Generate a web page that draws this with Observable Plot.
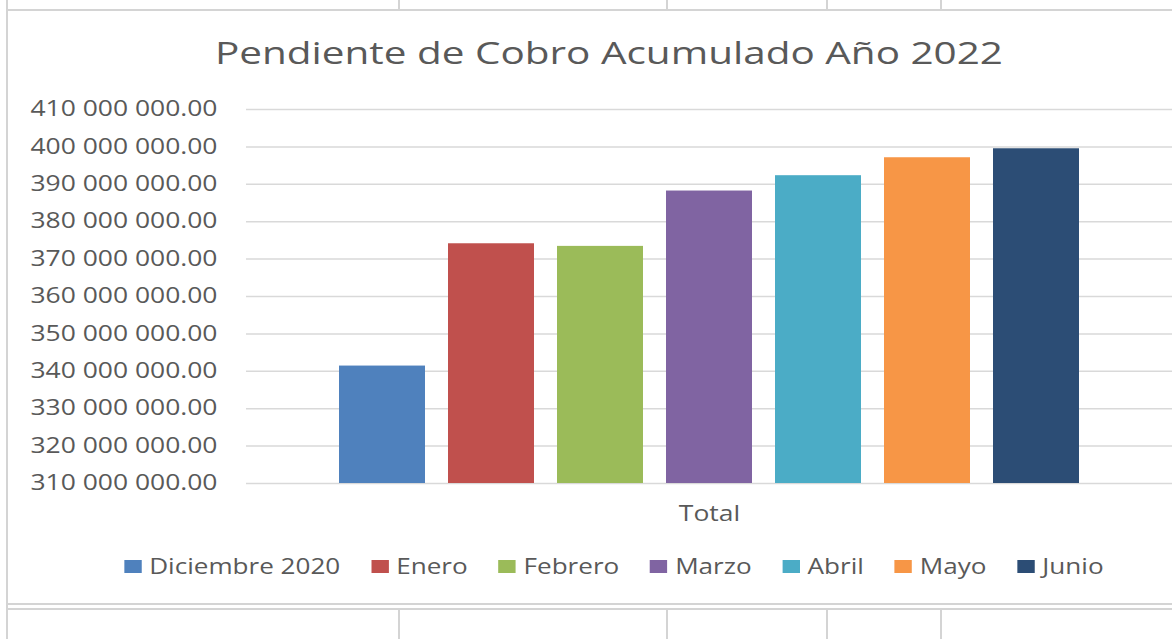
<!DOCTYPE html>
<html>
<head>
<meta charset="utf-8">
<script src="https://cdn.jsdelivr.net/npm/d3@7"></script>
<script src="https://cdn.jsdelivr.net/npm/@observablehq/plot@0.6"></script>
<style>
  html, body { margin: 0; padding: 0; background: #fff; }
  #page { position: relative; width: 1172px; height: 639px; overflow: hidden; font-family: "Open Sans", sans-serif; color: #595959; }
  .ln { position: absolute; background: #d4d4d4; }
  #title { position: absolute; left: 608.5px; top: 37px; font-size: 31px; line-height: 31px; white-space: nowrap; display: inline-block; }
  #legend { position: absolute; left: 614px; top: 555px; display: flex; align-items: center; gap: 25px; white-space: nowrap; font-size: 21px; line-height: 23px; }
  .item { display: flex; align-items: center; }
  .sw { width: 14px; height: 13px; margin-right: 6px; }
  #chart { position: absolute; left: 0; top: 0; }
</style>
</head>
<body>
<div id="page">
  <div id="chart"></div>
  <div id="title"></div>
  <div id="legend"></div>
</div>
<script>
// ---- data ----
const titulo = "Pendiente de Cobro Acumulado Año 2022";
const meses = ["Diciembre 2020", "Enero", "Febrero", "Marzo", "Abril", "Mayo", "Junio"];
const valores = [341400000, 374100000, 373400000, 388200000, 392300000, 397100000, 399500000];
const colores = ["#4F81BD", "#C0504D", "#9BBB59", "#8064A2", "#4BACC6", "#F79646", "#2C4D75"];
const categoria = ["Total"];
const yTicks = [310e6, 320e6, 330e6, 340e6, 350e6, 360e6, 370e6, 380e6, 390e6, 400e6, 410e6];

const data = meses.map((m, i) => ({mes: m, valor: valores[i]}));
const K = 1.26;       // horizontal stretch of the reference's axis text
const K_TITLE = 1.305;
const K_LEGEND = 1.242;

const loc = d3.formatLocale({decimal: ".", thousands: " ", grouping: [3], currency: ["", ""]});
const fmt = loc.format(",.2f");

const W = 1172, H = 540;
const plot = Plot.plot({
  width: W,
  height: H,
  marginLeft: 246,
  marginRight: 0,
  marginTop: 109,
  marginBottom: H - 483,
  style: {fontFamily: "Open Sans", fontSize: "21px", color: "#595959", background: "transparent"},
  x: {domain: meses, paddingInner: 0.211, paddingOuter: 0.853, axis: null},
  y: {domain: [310e6, 410e6], axis: null},
  color: {domain: meses, range: colores},
  marks: [
    Plot.gridY(yTicks, {stroke: "#d9d9d9", strokeOpacity: 1, strokeWidth: 1.5}),
    Plot.axisY(yTicks, {tickSize: 0, tickPadding: 29, tickFormat: fmt, label: null, fontSize: 21, fill: "#595959"}),
    Plot.barY(data, {x: "mes", y1: 310e6, y2: "valor", fill: "mes"}),
    Plot.text(categoria, {frameAnchor: "bottom", dy: 37, fontSize: 21, fill: "#595959"})
  ]
});
document.getElementById("chart").appendChild(plot);

// stretch SVG texts horizontally
plot.querySelectorAll("text").forEach(t => {
  const L = t.getComputedTextLength();
  if (L > 0) {
    t.setAttribute("textLength", L * K);
    t.setAttribute("lengthAdjust", "spacingAndGlyphs");
  }
});

// title
const tEl = document.getElementById("title");
tEl.textContent = titulo;
tEl.style.transform = `translateX(-50%) scaleX(${K_TITLE})`;

// legend
const lg = document.getElementById("legend");
meses.forEach((m, i) => {
  const it = document.createElement("div");
  it.className = "item";
  const sw = document.createElement("span");
  sw.className = "sw";
  sw.style.background = colores[i];
  const tx = document.createElement("span");
  tx.textContent = m;
  it.appendChild(sw); it.appendChild(tx);
  lg.appendChild(it);
});
lg.style.transform = `translateX(-50%) scaleX(${K_LEGEND})`;

// spreadsheet cell lines around the chart
const page = document.getElementById("page");
function line(x, y, w, h) {
  const d = document.createElement("div");
  d.className = "ln";
  Object.assign(d.style, {left: x + "px", top: y + "px", width: w + "px", height: h + "px"});
  page.appendChild(d);
}
line(6, 0, 2, 639);
line(6, 9, 1166, 2);
line(6, 603, 1166, 2);
line(6, 608, 1166, 2);
[398, 666, 826, 940].forEach(x => { line(x, 0, 1.5, 9); line(x, 610, 1.5, 29); });
</script>
</body>
</html>
